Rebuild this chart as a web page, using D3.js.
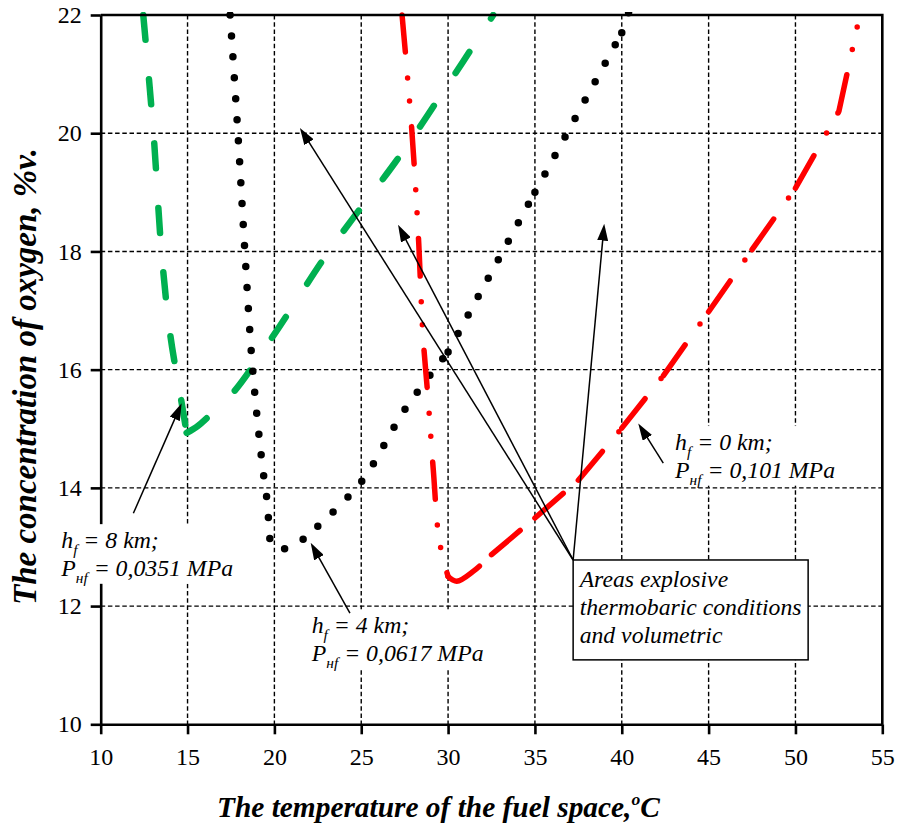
<!DOCTYPE html>
<html lang="en">
<head>
<meta charset="utf-8">
<title>Oxygen concentration vs fuel space temperature</title>
<script src="https://d3js.org/d3.v7.min.js"></script>
<style>
  body { margin: 0; background: #fff; }
  svg { display: block; }
  svg text { font-family: "Liberation Serif", "Times New Roman", Times, "DejaVu Serif", serif; }
</style>
</head>
<body>
<svg id="chart" width="899" height="828"></svg>
<script>
// axis ticks
const xTicks = [10, 15, 20, 25, 30, 35, 40, 45, 50, 55];
const yTicks = [10, 12, 14, 16, 18, 20, 22];

// h_f = 0 km (red, dash-dot-dot)
const tempRed = [27.35, 27.9, 28.3, 28.55, 28.85, 29.15, 29.5, 30.0, 30.5, 31.5, 32.5, 35.0, 37.5, 40.0, 42.4, 45.0, 47.5, 50.0, 52.5, 54.0];
const oxyRed  = [22.0, 20.1, 18.2, 16.6, 15.5, 14.3, 13.1, 12.5, 12.42, 12.6, 12.87, 13.49, 14.13, 15.01, 15.9, 16.98, 18.03, 19.07, 20.37, 22.4];
const restartRed = [7, 10, 11, 12, 13, 14, 15, 16, 17, 18];

// h_f = 4 km (black, round dots)
const tempBlack = [17.45, 17.9, 18.3, 18.75, 19.3, 19.6, 19.95, 21.0, 22.0, 22.5, 25.0, 27.5, 30.0, 35.0, 40.0, 40.7];
const oxyBlack  = [22.0, 20.0, 18.0, 16.0, 14.4, 13.75, 13.0, 13.0, 13.22, 13.35, 14.1, 15.32, 16.3, 19.0, 21.7, 22.3];
const restartBlack = [9, 12, 13, 14];

// h_f = 8 km (green, long dash)
const tempGreen = [12.45, 13.04, 13.5, 14.0, 14.66, 14.95, 15.6, 16.18, 17.62, 20.0, 23.2, 26.94, 28.38, 29.53, 30.86, 32.6];
const oxyGreen  = [22.0, 20.0, 18.0, 16.6, 15.44, 14.93, 15.05, 15.2, 15.61, 16.6, 18.03, 19.5, 20.11, 20.62, 21.21, 22.0];
const restartGreen = [5];

// window / margins
const W = 899, H = 828
const margin = {top: 15, right: 16.7, bottom: 103.7, left: 100.7}
const width = W - margin.left - margin.right
const height = H - margin.top - margin.bottom
const serif = "'Liberation Serif', 'Times New Roman', Times, 'DejaVu Serif', serif"

const x = d3.scaleLinear().domain([10, 55]).range([0, width])
const y = d3.scaleLinear().domain([10, 22]).range([height, 0])

const svg = d3.select("#chart").attr("font-family", serif)
const defs = svg.append("defs")
// a little headroom so marks sitting on the top frame stay half visible
defs.append("clipPath").attr("id", "plotClip")
  .append("rect").attr("y", -3).attr("width", width).attr("height", height + 3)
defs.append("marker")
  .attr("id", "arrowHead")
  .attr("viewBox", "0 0 17 11")
  .attr("refX", 17).attr("refY", 5.5)
  .attr("markerWidth", 17).attr("markerHeight", 11)
  .attr("markerUnits", "userSpaceOnUse")
  .attr("orient", "auto")
  .append("path").attr("d", "M0,0L17,5.5L0,11Z").attr("fill", "#000")

const g = svg.append("g").attr("transform", `translate(${margin.left},${margin.top})`)

// dashed grid
g.append("g")
  .selectAll("line")
  .data(xTicks.filter(d => d > 10 && d < 55))
  .join("line")
    .attr("x1", d => x(d)).attr("x2", d => x(d))
    .attr("y1", 0).attr("y2", height)
    .attr("stroke", "#000").attr("stroke-width", 1.4)
    .attr("stroke-dasharray", "4.5,2.7")
g.append("g")
  .selectAll("line")
  .data(yTicks.filter(d => d > 10 && d < 22))
  .join("line")
    .attr("x1", 0).attr("x2", width)
    .attr("y1", d => y(d)).attr("y2", d => y(d))
    .attr("stroke", "#000").attr("stroke-width", 1.4)
    .attr("stroke-dasharray", "4.5,2.7")

// curves: each series is drawn in pieces, the dash pattern restarts at every piece
const line = d3.line().curve(d3.curveCatmullRom.alpha(0.5))
const curves = g.append("g").attr("clip-path", "url(#plotClip)")

function drawSeries(xs, ys, restarts, color, widthPx, dash) {
  const pts = xs.map((t, i) => [x(t), y(ys[i])])
  const cuts = [0, ...restarts, pts.length - 1]
  for (let k = 0; k < cuts.length - 1; k++) {
    curves.append("path")
      .attr("d", line(pts.slice(cuts[k], cuts[k + 1] + 1)))
      .attr("fill", "none")
      .attr("stroke", color)
      .attr("stroke-width", widthPx)
      .attr("stroke-linecap", "round")
      .attr("stroke-dasharray", dash)
  }
}
drawSeries(tempGreen, oxyGreen, restartGreen, "#00b050", 6.5, "25,39.5")
drawSeries(tempBlack, oxyBlack, restartBlack, "#000000", 7.5, "0,21")
drawSeries(tempRed, oxyRed, restartRed, "#ff0000", 5.5, "37.5,25.75,0,23,0,25.75")

// axes + frame on top of the curves
function styleAxis(sel) {
  sel.attr("font-family", serif).attr("font-size", 24)
  sel.select(".domain").attr("stroke-width", 2.6)
  sel.selectAll(".tick line").attr("stroke-width", 2.6)
  sel.selectAll(".tick text").attr("fill", "#000")
}
g.append("g")
  .attr("transform", `translate(0,${height})`)
  .call(d3.axisBottom(x).tickValues(xTicks).tickSize(10).tickSizeOuter(0).tickPadding(14))
  .call(styleAxis)
g.append("g")
  .call(d3.axisLeft(y).tickValues(yTicks).tickSize(10).tickSizeOuter(0).tickPadding(9))
  .call(styleAxis)
g.append("path")
  .attr("d", `M0,0H${width}V${height}`)
  .attr("fill", "none").attr("stroke", "#000").attr("stroke-width", 2.6)

// ---- annotations ----
const notes = g.append("g")

function buildLabel(parent, lines, fs, gap) {
  const grp = parent.append("g")
  lines.forEach((ln, i) => {
    const t = grp.append("text")
      .attr("y", i * gap)
      .attr("font-family", serif)
      .attr("font-style", "italic")
      .attr("font-size", fs)
      .attr("fill", "#000")
    t.append("tspan").text(ln[0])
    t.append("tspan").attr("font-size", fs * 0.65).attr("dy", fs * 0.28).text(ln[1])
    t.append("tspan").attr("dy", -fs * 0.28).text(ln[2])
  })
  return grp
}

// calibrate label font size
const probe = buildLabel(notes, [["P", "нf", " = 0,101 MPa"]], 20, 0)
const probeW = probe.select("text").node().getComputedTextLength()
probe.remove()
const labelFs = 20 * 160 / probeW
const lineGap = 28

const labelText = [
  {lines: [["h", "f", " = 8 km;"], ["P", "нf", " = 0,0351 MPa"]], tx: 17.62, ty: 12.98, align: "right",
   tail: [11.88, 13.57], tip: [14.66, 15.43]},
  {lines: [["h", "f", " = 4 km;"], ["P", "нf", " = 0,0617 MPa"]], tx: 22.15, ty: 11.54, align: "left",
   tail: [24.35, 11.88], tip: [22.09, 13.07]},
  {lines: [["h", "f", " = 0 km;"], ["P", "нf", " = 0,101 MPa"]], tx: 43.07, ty: 14.64, align: "left",
   tail: [42.39, 14.42], tip: [40.95, 15.09]}
]

function arrow(from, to) {
  const x1 = x(from[0]), y1 = y(from[1]), x2 = x(to[0]), y2 = y(to[1])
  const len = Math.hypot(x2 - x1, y2 - y1)
  const k = (len - 8) / len
  notes.append("line")
    .attr("x1", x1).attr("y1", y1)
    .attr("x2", x1 + (x2 - x1) * k).attr("y2", y1 + (y2 - y1) * k)
    .attr("stroke", "#000").attr("stroke-width", 1.5)
  notes.append("line")
    .attr("x1", x1 + (x2 - x1) * k).attr("y1", y1 + (y2 - y1) * k)
    .attr("x2", x2).attr("y2", y2)
    .attr("stroke", "none")
    .attr("marker-end", "url(#arrowHead)")
}

labelText.forEach(d => {
  const grp = buildLabel(notes, d.lines, labelFs, lineGap)
  let left = x(d.tx)
  if (d.align === "right") {
    const maxW = d3.max(grp.selectAll("text").nodes(), n => n.getComputedTextLength())
    left = x(d.tx) - maxW
  }
  grp.attr("transform", `translate(${left},${y(d.ty)})`)
  const bb = grp.node().getBBox()
  grp.insert("rect", ":first-child")
    .attr("x", bb.x - 4).attr("y", bb.y - 3)
    .attr("width", bb.width + 8).attr("height", bb.height + 1)
    .attr("fill", "#fff")
  arrow(d.tail, d.tip)
})

// boxed note with three arrows
const boxCorner = [37.2, 12.78]
const boxFar = [50.73, 11.09]
const boxTips = [[21.47, 20.09], [27.12, 18.45], [38.99, 18.47]]
const boxLines = ["Areas explosive", "thermobaric conditions", "and volumetric"]

boxTips.forEach(t => arrow(boxCorner, t))

notes.append("rect")
  .attr("x", x(boxCorner[0])).attr("y", y(boxCorner[1]))
  .attr("width", x(boxFar[0]) - x(boxCorner[0]))
  .attr("height", y(boxFar[1]) - y(boxCorner[1]))
  .attr("fill", "#fff").attr("stroke", "#000").attr("stroke-width", 1.5)

const boxText = notes.append("g")
  .attr("transform", `translate(${x(boxCorner[0]) + 6.5},${y(boxCorner[1]) + 26.7})`)
boxLines.forEach((s, i) => {
  boxText.append("text")
    .attr("y", i * 28.3)
    .attr("font-family", serif)
    .attr("font-style", "italic").attr("font-size", 20).attr("fill", "#000")
    .text(s)
})
const boxW = boxText.selectAll("text").nodes()[1].getComputedTextLength()
boxText.selectAll("text").attr("font-size", 20 * 222 / boxW)

// axis titles
function buildXTitle(fs) {
  const t = svg.append("text")
    .attr("x", 217).attr("y", 817)
    .attr("font-family", serif)
    .attr("font-weight", "bold").attr("font-style", "italic")
    .attr("font-size", fs).attr("fill", "#000")
  t.append("tspan").text("The temperature of the fuel space,")
  t.append("tspan").attr("font-size", fs * 0.6).attr("dy", -fs * 0.42).text("o")
  t.append("tspan").attr("dy", fs * 0.42).text("C")
  return t
}
let xt = buildXTitle(26)
const xtW = xt.node().getComputedTextLength()
xt.remove()
buildXTitle(26 * 443 / xtW)

const yTitle = svg.append("text")
  .attr("transform", "translate(36,376.5) rotate(-90)")
  .attr("text-anchor", "middle")
  .attr("font-family", serif)
  .attr("font-weight", "bold").attr("font-style", "italic")
  .attr("font-size", 28).attr("fill", "#000")
  .text("The concentration of oxygen, %v.")
const ytW = yTitle.node().getComputedTextLength()
yTitle.attr("font-size", 28 * 457 / ytW)
</script>
</body>
</html>
